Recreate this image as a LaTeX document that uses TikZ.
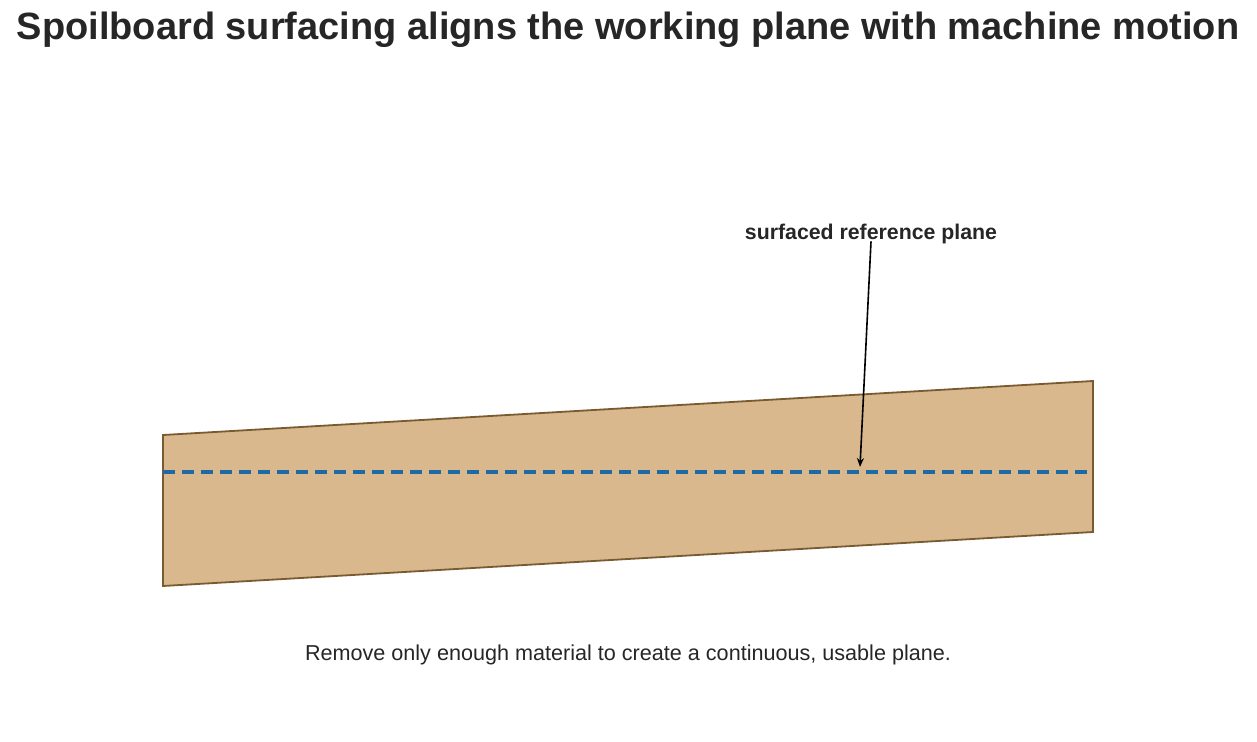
\documentclass[tikz,border=0pt]{standalone}
\usepackage{fontspec}
\setmainfont{Liberation Sans}
\definecolor{boardfill}{HTML}{D8B88C}
\definecolor{boardedge}{HTML}{7A5A30}
\definecolor{planeblue}{HTML}{1F6AA5}
\definecolor{inkgray}{HTML}{262626}
\tikzset{
  board/.style={fill=boardfill,draw=boardedge,line width=1.8},
  plane/.style={draw=planeblue,line width=3.2,dash pattern=on 12pt off 7pt},
  callout/.style={draw=black,line width=1.6,-{Stealth[length=9pt,width=7pt]}}
}
\usetikzlibrary{arrows.meta}
\begin{document}
\begin{tikzpicture}[x=1pt,y=-1pt]
		\useasboundingbox (0,0) rectangle (1257,741);
		\coordinate (BL) at (163,586);
		\coordinate (TL) at (163,435);
		\coordinate (TR) at (1093,381);
		\coordinate (BR) at (1093,532);
		\draw[board] (TL) -- (TR) -- (BR) -- (BL) -- cycle;
		\coordinate (PL) at (163,472);
		\coordinate (PR) at (1093,472);
		\draw[plane] (PL) -- (PR);
		\node[font=\bfseries\fontsize{38}{44}\selectfont,text=inkgray] (title) at (628,30) {Spoilboard surfacing aligns the working plane with machine motion};
		\node[font=\bfseries\fontsize{21.3}{25}\selectfont,text=inkgray] (lab) at (871,234) {surfaced reference plane};
		\coordinate (tip) at (860,467);
		\draw[callout] (lab.south) ++(0,-6) -- (tip);
		\node[font=\fontsize{21.6}{25}\selectfont,text=inkgray] (note) at (628,655) {Remove only enough material to create a continuous, usable plane.};
	\end{tikzpicture}
\end{document}
